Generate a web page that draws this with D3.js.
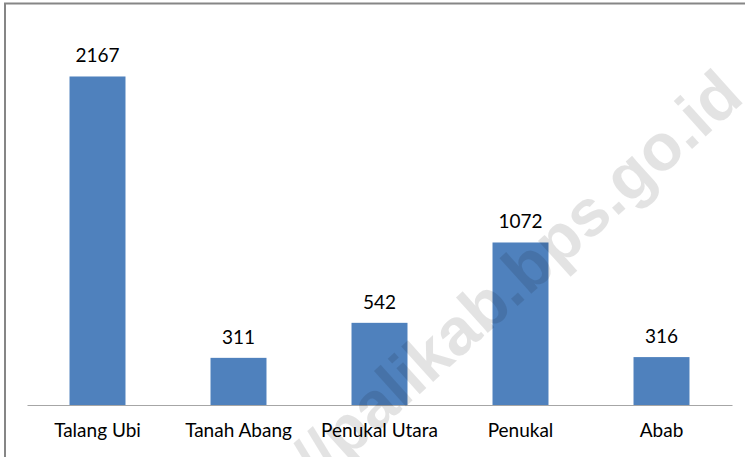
<!DOCTYPE html>
<html>
<head>
<meta charset="utf-8">
<script src="https://cdn.jsdelivr.net/npm/d3@7"></script>
<style>
  html, body { margin: 0; padding: 0; background: #fff; }
  svg { display: block; }
</style>
</head>
<body>
<svg width="745" height="457"></svg>
<script>
// data
const categories = ["Talang Ubi", "Tanah Abang", "Penukal Utara", "Penukal", "Abab"];
const values = [2167, 311, 542, 1072, 316];
const yMax = 2500;
const watermarkText = "//palikab.bps.go.id";

const barColor = "#4f81bd";
const axisColor = "#a6a6a6";
const frameColor = "#868686";
const font = "Lato, 'Open Sans', sans-serif";

const svg = d3.select("svg");
const width = Number(svg.attr("width"));
const height = Number(svg.attr("height"));

// scales
const x = d3.scaleBand()
    .domain(categories)
    .range([27, 732])
    .paddingInner(0.603)
    .paddingOuter(0.3015);
const y = d3.scaleLinear()
    .domain([0, yMax])
    .range([405, 26]);

// chart frame (only top and left edges are visible in the crop)
svg.append("path")
    .attr("d", `M5,${height} L5,3.5 L${width},3.5`)
    .attr("fill", "none")
    .attr("stroke", frameColor)
    .attr("stroke-width", 2);

// bars
svg.append("g")
    .selectAll("rect")
    .data(values)
    .join("rect")
    .attr("x", (_d, i) => x(categories[i]))
    .attr("y", d => y(d))
    .attr("width", x.bandwidth())
    .attr("height", d => y(0) - y(d))
    .attr("fill", barColor);

// value labels
svg.append("g")
    .selectAll("text")
    .data(values)
    .join("text")
    .text(d => d)
    .attr("x", (_d, i) => x(categories[i]) + x.bandwidth() / 2)
    .attr("y", d => y(d) - 14)
    .attr("text-anchor", "middle")
    .attr("font-family", font)
    .attr("font-size", 19)
    .attr("fill", "#000");

// category axis
const xAxis = svg.append("g")
    .attr("transform", `translate(0,${y(0)})`)
    .call(d3.axisBottom(x).tickSize(0).tickPadding(19).tickSizeOuter(0));
xAxis.select(".domain")
    .attr("stroke", axisColor)
    .attr("stroke-width", 1.2);
xAxis.selectAll("text")
    .attr("font-family", font)
    .attr("font-size", 19)
    .attr("fill", "#000");

// watermark
svg.append("text")
    .text(watermarkText)
    .attr("transform", "translate(532,293) rotate(-42)")
    .attr("text-anchor", "middle")
    .attr("font-family", "'Liberation Sans', Arial, sans-serif")
    .attr("font-weight", "bold")
    .attr("font-size", 66)
    .attr("fill", "#000")
    .attr("fill-opacity", 0.11);
</script>
</body>
</html>
